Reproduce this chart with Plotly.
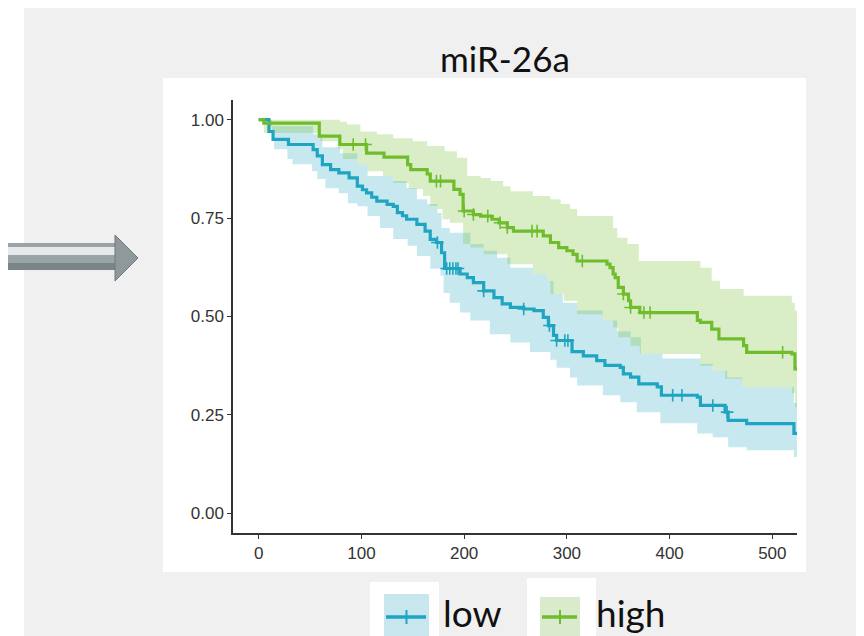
import numpy as np
import plotly.graph_objects as go

# ---------------- data ----------------
x_ticks = [0, 100, 200, 300, 400, 500]
y_ticks = [0.0, 0.25, 0.5, 0.75, 1.0]
y_tick_labels = ["0.00", "0.25", "0.50", "0.75", "1.00"]
follow_up_end = 530

# low group (blue)
low_time = [0, 10, 14, 29, 53, 57, 62, 70, 78, 88, 96, 101, 105, 110, 115, 125, 131, 135, 140,
            144, 154, 162, 167, 173, 178, 181, 196, 203, 209, 219, 229, 237, 245, 258, 268,
            277, 282, 287, 290, 305, 316, 329, 337, 352, 355, 362, 370, 388, 392, 427, 430,
            454, 457, 475, 521]
low_surv = [1.0, 0.97, 0.95, 0.937, 0.924, 0.908, 0.886, 0.873, 0.865, 0.852, 0.831, 0.822,
            0.814, 0.803, 0.793, 0.785, 0.780, 0.764, 0.756, 0.747, 0.734, 0.717, 0.696, 0.688,
            0.662, 0.622, 0.608, 0.599, 0.586, 0.565, 0.548, 0.532, 0.523, 0.519, 0.515, 0.498,
            0.477, 0.452, 0.439, 0.411, 0.400, 0.388, 0.376, 0.371, 0.354, 0.346, 0.329, 0.321,
            0.300, 0.295, 0.274, 0.257, 0.236, 0.228, 0.203]
low_censor = [174, 183, 186, 189, 192, 194, 219, 258, 283, 290, 298, 301, 403, 412, 442, 456]
low_upper_time = [0, 10, 53, 62, 79, 96, 106, 131, 144, 154, 164, 174, 178, 186, 206, 219, 232,
                  245, 267, 281, 287, 296, 310, 335, 349, 362, 372, 393, 430, 442, 456, 471, 521]
low_upper = [1.0, 0.983, 0.963, 0.93, 0.915, 0.887, 0.857, 0.844, 0.826, 0.798, 0.786, 0.763,
             0.725, 0.713, 0.684, 0.667, 0.649, 0.624, 0.608, 0.59, 0.557, 0.535, 0.515, 0.49,
             0.462, 0.447, 0.405, 0.393, 0.38, 0.363, 0.345, 0.32, 0.28]
low_lower_time = [0, 13, 15, 28, 33, 52, 57, 65, 78, 87, 96, 106, 118, 131, 145, 154, 167, 177,
                  180, 186, 196, 206, 225, 245, 264, 284, 290, 303, 310, 335, 352, 368, 391, 427,
                  442, 457, 475, 521]
low_lower = [1.0, 0.945, 0.925, 0.90, 0.887, 0.869, 0.849, 0.826, 0.813, 0.788, 0.78, 0.755,
             0.725, 0.697, 0.68, 0.654, 0.621, 0.604, 0.56, 0.535, 0.51, 0.49, 0.455, 0.434, 0.41,
             0.39, 0.37, 0.345, 0.325, 0.30, 0.282, 0.257, 0.229, 0.203, 0.193, 0.168, 0.16, 0.143]

# high group (green)
high_time = [0, 5, 59, 79, 105, 122, 145, 148, 164, 167, 190, 196, 199, 209, 216, 227, 234,
             242, 248, 277, 284, 292, 300, 306, 310, 339, 342, 345, 347, 350, 355, 360, 362,
             371, 427, 430, 441, 448, 472, 475, 519, 522]
high_surv = [1.0, 0.991, 0.958, 0.937, 0.915, 0.905, 0.886, 0.873, 0.862, 0.844, 0.823, 0.810,
             0.768, 0.759, 0.755, 0.747, 0.738, 0.726, 0.717, 0.705, 0.688, 0.675, 0.667, 0.658,
             0.641, 0.633, 0.624, 0.608, 0.599, 0.574, 0.557, 0.540, 0.523, 0.510, 0.49, 0.485,
             0.468, 0.443, 0.426, 0.409, 0.405, 0.367]
high_censor = [92, 104, 173, 177, 200, 209, 223, 235, 242, 266, 271, 315, 355, 362, 375, 381, 510]
high_upper_time = [0, 79, 86, 99, 115, 131, 150, 164, 181, 193, 203, 216, 226, 238, 245, 267,
                   284, 294, 303, 310, 345, 349, 359, 370, 430, 441, 449, 472, 519, 522]
high_upper = [1.0, 0.995, 0.988, 0.97, 0.963, 0.953, 0.945, 0.933, 0.92, 0.903, 0.857, 0.852,
              0.844, 0.831, 0.818, 0.806, 0.798, 0.786, 0.773, 0.755, 0.725, 0.70, 0.684, 0.641,
              0.624, 0.591, 0.57, 0.553, 0.535, 0.515]
high_lower_time = [0, 5, 60, 77, 82, 96, 106, 121, 131, 146, 160, 167, 174, 179, 186, 199, 206,
                   219, 242, 267, 281, 284, 297, 310, 335, 345, 350, 362, 371, 430, 442, 454,
                   471, 519, 522]
high_lower = [1.0, 0.966, 0.945, 0.925, 0.90, 0.887, 0.869, 0.857, 0.839, 0.824, 0.806, 0.781,
              0.773, 0.747, 0.738, 0.684, 0.675, 0.658, 0.633, 0.608, 0.59, 0.557, 0.54, 0.506,
              0.489, 0.472, 0.447, 0.426, 0.405, 0.375, 0.363, 0.342, 0.32, 0.305, 0.27]

title_text = "miR-26a"
legend_labels = ["low", "high"]

# ---------------- styles ----------------
BLUE = "#1fa5c1"
GREEN = "#6fbd2c"
BLUE_FILL = "rgba(30,165,192,0.25)"
GREEN_FILL = "rgba(114,191,48,0.27)"
BLUE_KEY = "#c8e6ee"
GREEN_KEY = "#d9ebcc"

W, H = 864, 636
OFF = 8  # page body margin
# plot area in page pixels: x 233..797, y 100..533
L, T = 233 - OFF, 100 - OFF
R = W - (797 - OFF)
B = H - (533 - OFF)
PW, PH = W - L - R, H - T - B


def px(x):
    return (x - OFF - L) / PW


def py(y):
    return (H - B - (y - OFF)) / PH


def ext(t, v):
    return list(t) + [follow_up_end], list(v) + [v[-1]]


def step_at(times, vals, q):
    idx = np.searchsorted(np.array(times), np.array(q), side="right") - 1
    return [vals[i] for i in idx]


fig = go.Figure()

for (ut, uv, lt, lv, fill) in [
    (low_upper_time, low_upper, low_lower_time, low_lower, BLUE_FILL),
    (high_upper_time, high_upper, high_lower_time, high_lower, GREEN_FILL),
]:
    xu, yu = ext(ut, uv)
    xl, yl = ext(lt, lv)
    fig.add_trace(go.Scatter(x=xu, y=yu, mode="lines", line=dict(width=0, shape="hv"),
                             showlegend=False, hoverinfo="skip"))
    fig.add_trace(go.Scatter(x=xl, y=yl, mode="lines", line=dict(width=0, shape="hv"),
                             fill="tonexty", fillcolor=fill, showlegend=False, hoverinfo="skip"))

for (t, s, c, col, name) in [
    (low_time, low_surv, low_censor, BLUE, legend_labels[0]),
    (high_time, high_surv, high_censor, GREEN, legend_labels[1]),
]:
    xs, ys = ext(t, s)
    fig.add_trace(go.Scatter(x=xs, y=ys, mode="lines", line=dict(color=col, width=3.2, shape="hv"),
                             name=name, showlegend=False))
    fig.add_trace(go.Scatter(x=c, y=step_at(t, s, c), mode="markers",
                             marker=dict(symbol="cross-thin", size=9,
                                         line=dict(color=col, width=1.6)),
                             showlegend=False, hoverinfo="skip"))

shapes = []
# gray slide background (white strips at top/left)
shapes.append(dict(type="rect", xref="paper", yref="paper", x0=px(24), x1=px(W + 20),
                   y0=py(H + 20), y1=py(8), fillcolor="#f0f0f0", line=dict(width=0), layer="below"))
# white ggplot canvas
shapes.append(dict(type="rect", xref="paper", yref="paper", x0=px(163), x1=px(806),
                   y0=py(572), y1=py(78), fillcolor="white", line=dict(width=0), layer="below"))

# arrow
shapes.append(dict(type="rect", xref="paper", yref="paper", x0=px(0), x1=px(117),
                   y0=py(270), y1=py(243), fillcolor="#9aa4a7", line=dict(width=0), layer="below"))
shapes.append(dict(type="rect", xref="paper", yref="paper", x0=px(0), x1=px(117),
                   y0=py(255), y1=py(247), fillcolor="#e4eaea", line=dict(width=0), layer="below"))
shapes.append(dict(type="rect", xref="paper", yref="paper", x0=px(0), x1=px(117),
                   y0=py(270), y1=py(263), fillcolor="#7b8588", line=dict(width=0), layer="below"))
head = "M {} {} L {} {} L {} {} Z".format(px(115), py(235), px(138), py(258), px(115), py(281))
shapes.append(dict(type="path", xref="paper", yref="paper", path=head, fillcolor="#8f999c",
                   line=dict(color="#6f797c", width=1), layer="below"))

# legend
shapes.append(dict(type="rect", xref="paper", yref="paper", x0=px(370), x1=px(439),
                   y0=py(H + 20), y1=py(582), fillcolor="white", line=dict(width=0), layer="below"))
shapes.append(dict(type="rect", xref="paper", yref="paper", x0=px(527), x1=px(596),
                   y0=py(H + 20), y1=py(578), fillcolor="white", line=dict(width=0), layer="below"))
for (x0, x1, y0, col, key) in [(384, 429, 594, BLUE, BLUE_KEY), (540, 580, 597, GREEN, GREEN_KEY)]:
    shapes.append(dict(type="rect", xref="paper", yref="paper", x0=px(x0), x1=px(x1),
                       y0=py(H + 20), y1=py(y0), fillcolor=key, line=dict(width=0)))
    shapes.append(dict(type="line", xref="paper", yref="paper", x0=px(x0 + 2), x1=px(x1 - 3),
                       y0=py(617), y1=py(617), line=dict(color=col, width=3.5)))
    xm = (x0 + x1) / 2
    shapes.append(dict(type="line", xref="paper", yref="paper", x0=px(xm), x1=px(xm),
                       y0=py(610), y1=py(624), line=dict(color=col, width=2)))

annotations = [
    dict(text=title_text, xref="paper", yref="paper", x=px(505), y=py(58), showarrow=False,
         xanchor="center", yanchor="middle", font=dict(family="Lato", size=35, color="#111111")),
    dict(text=legend_labels[0], xref="paper", yref="paper", x=px(441), y=py(612), showarrow=False,
         xanchor="left", yanchor="middle", font=dict(family="Lato", size=37, color="#111111")),
    dict(text=legend_labels[1], xref="paper", yref="paper", x=px(594), y=py(612), showarrow=False,
         xanchor="left", yanchor="middle", font=dict(family="Lato", size=37, color="#111111")),
]

axis_common = dict(showgrid=False, zeroline=False, showline=True, linecolor="#333333",
                   linewidth=1.5, ticks="outside", ticklen=4, tickwidth=1.2, tickcolor="#333333",
                   tickfont=dict(family="Liberation Sans, Arial", size=17, color="#333333"))

fig.update_layout(
    width=W, height=H, autosize=False,
    margin=dict(l=L, r=R, t=T, b=B, pad=0),
    paper_bgcolor="white", plot_bgcolor="white",
    xaxis=dict(range=[-25, 524], tickvals=x_ticks, **axis_common),
    yaxis=dict(range=[-0.05, 1.05], tickvals=y_ticks, ticktext=y_tick_labels, **axis_common),
    shapes=shapes, annotations=annotations, showlegend=False,
)

fig.write_html("out.html")
